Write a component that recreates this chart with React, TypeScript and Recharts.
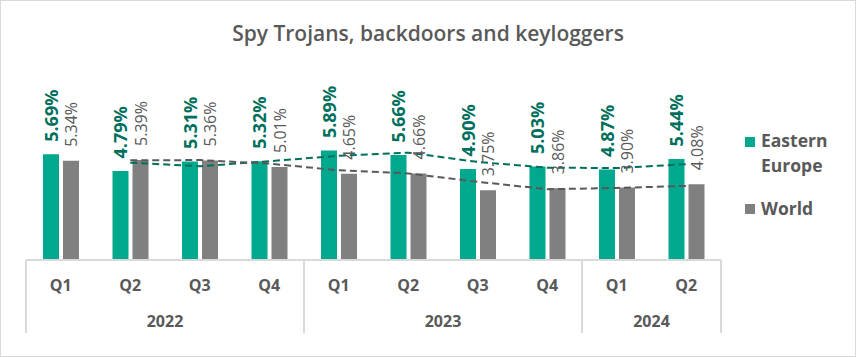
import React from 'react'
import { ComposedChart, Bar, Line, XAxis, YAxis, LabelList } from 'recharts'

const quarters = ['Q1', 'Q2', 'Q3', 'Q4', 'Q1', 'Q2', 'Q3', 'Q4', 'Q1', 'Q2']
const years = ['2022', '2022', '2022', '2022', '2023', '2023', '2023', '2023', '2024', '2024']
const easternEurope = [5.69, 4.79, 5.31, 5.32, 5.89, 5.66, 4.9, 5.03, 4.87, 5.44]
const world = [5.34, 5.39, 5.36, 5.01, 4.65, 4.66, 3.75, 3.86, 3.9, 4.08]
// dashed trendlines (2-period moving average)
const easternTrend = [null, 5.24, 5.05, 5.32, 5.61, 5.78, 5.28, 4.97, 4.95, 5.16]
const worldTrend = [null, 5.37, 5.38, 5.19, 4.83, 4.66, 4.21, 3.81, 3.88, 3.99]

const W = 856
const H = 357
const PLOT_LEFT = 26
const PLOT_RIGHT = 721
const AXIS_Y = 260
const PLOT_TOP = 130
const PLOT_W = PLOT_RIGHT - PLOT_LEFT

const GREEN = '#00A88E'
const GREEN_DARK = '#00705C'
const GRAY = '#808080'
const TEXT = '#595959'
const LINE = '#D9D9D9'
const FONT = '"Open Sans", sans-serif'

const data = quarters.map((q, i) => ({
  key: years[i] + q,
  ee: easternEurope[i],
  world: world[i],
  eeTrend: easternTrend[i],
  worldTrend: worldTrend[i],
}))

const fmt = (v: number) => `${Number(v).toFixed(2)}%`

function GreenLabel(props: any) {
  const { x, y, width, value } = props
  const cx = Number(x) + Number(width) / 2 + 6.5
  const y0 = Number(y) - 12.5
  return (
    <text
      transform={`translate(${cx},${y0}) rotate(-90)`}
      fill={GREEN_DARK}
      fontFamily={FONT}
      fontWeight={700}
      fontSize={18}
    >
      {fmt(value)}
    </text>
  )
}

function GrayLabel(props: any) {
  const { x, y, width, value } = props
  const cx = Number(x) + Number(width) / 2 + 6
  const y0 = Number(y) - 14
  return (
    <text
      transform={`translate(${cx},${y0}) rotate(-90)`}
      fill={TEXT}
      fontFamily={FONT}
      fontSize={16}
    >
      {fmt(value)}
    </text>
  )
}

function CategoryTick(props: any) {
  const { x, y, payload } = props
  const i: number = props.index ?? payload.index
  const bw = PLOT_W / quarters.length
  const left = x - bw / 2
  const items: React.ReactNode[] = []
  items.push(
    <text key="q" x={x} y={y + 30.7} textAnchor="middle" fill={TEXT} fontFamily={FONT} fontWeight={700} fontSize={16}>
      {quarters[i]}
    </text>
  )
  if (i === 0 || years[i] !== years[i - 1]) {
    let n = 0
    while (i + n < years.length && years[i + n] === years[i]) n++
    items.push(<line key="sep" x1={left} x2={left} y1={y} y2={y + 73} stroke={LINE} strokeWidth={2} />)
    items.push(
      <text key="yr" x={left + (n * bw) / 2} y={y + 66.7} textAnchor="middle" fill={TEXT} fontFamily={FONT} fontWeight={700} fontSize={16}>
        {years[i]}
      </text>
    )
  }
  if (i === quarters.length - 1) {
    items.push(<line key="end" x1={x + bw / 2} x2={x + bw / 2} y1={y} y2={y + 73} stroke={LINE} strokeWidth={2} />)
  }
  return <g>{items}</g>
}

export default function App() {
  return (
    <div style={{ position: 'fixed', left: 0, top: 0, width: W, height: H, background: '#fff', fontFamily: FONT }}>
      <div
        style={{
          position: 'absolute',
          left: 0,
          top: 21,
          width: W,
          textAlign: 'center',
          fontSize: 21,
          lineHeight: '25px',
          fontWeight: 600,
          color: TEXT,
        }}
      >
        Spy Trojans, backdoors and keyloggers
      </div>

      <ComposedChart
        width={W}
        height={H}
        data={data}
        margin={{ top: PLOT_TOP, right: W - PLOT_RIGHT, bottom: 0, left: PLOT_LEFT }}
        barGap={4}
        style={{ position: 'absolute', left: 0, top: 0 }}
      >
        <YAxis hide domain={[0, 7]} />
        <XAxis
          dataKey="key"
          height={H - AXIS_Y}
          axisLine={{ stroke: LINE, strokeWidth: 2 }}
          tickLine={false}
          tickSize={0}
          tickMargin={0}
          interval={0}
          tick={<CategoryTick />}
        />
        <Bar dataKey="ee" fill={GREEN} barSize={16} isAnimationActive={false}>
          <LabelList dataKey="ee" content={<GreenLabel />} />
        </Bar>
        <Bar dataKey="world" fill={GRAY} barSize={16} isAnimationActive={false}>
          <LabelList dataKey="world" content={<GrayLabel />} />
        </Bar>
        <Line
          dataKey="eeTrend"
          type="linear"
          stroke={GREEN_DARK}
          strokeWidth={2}
          strokeDasharray="7 4"
          dot={false}
          connectNulls
          isAnimationActive={false}
        />
        <Line
          dataKey="worldTrend"
          type="linear"
          stroke={TEXT}
          strokeWidth={2}
          strokeDasharray="7 4"
          dot={false}
          connectNulls
          isAnimationActive={false}
        />
      </ComposedChart>

      <div style={{ position: 'absolute', left: 745, top: 137, width: 10, height: 10, background: GREEN }} />
      <div
        style={{
          position: 'absolute',
          left: 761,
          top: 128,
          fontSize: 17.5,
          lineHeight: '25px',
          fontWeight: 700,
          color: TEXT,
        }}
      >
        Eastern
        <br />
        Europe
      </div>
      <div style={{ position: 'absolute', left: 745, top: 204, width: 10, height: 10, background: GRAY }} />
      <div
        style={{
          position: 'absolute',
          left: 761,
          top: 195.5,
          fontSize: 17.5,
          lineHeight: '25px',
          fontWeight: 700,
          color: TEXT,
        }}
      >
        World
      </div>

      <div
        style={{
          position: 'absolute',
          left: 0,
          top: 0,
          width: W,
          height: H,
          boxSizing: 'border-box',
          border: `1px solid ${LINE}`,
          pointerEvents: 'none',
        }}
      />
    </div>
  )
}
